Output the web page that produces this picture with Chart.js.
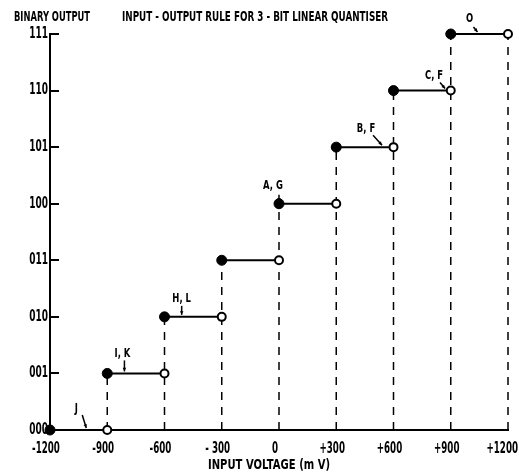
<!DOCTYPE html>
<html lang="en">
<head>
<meta charset="UTF-8">
<title>3-bit linear quantiser</title>
<script src="https://cdn.jsdelivr.net/npm/chart.js@4.4.1/dist/chart.umd.min.js"></script>
<style>
  body { margin: 0; background: #fff; }
  canvas { display: block; }
</style>
</head>
<body>
<canvas id="quantChart" width="519" height="476"></canvas>
<script>
// output code of each quantisation level
var codes = ['000', '001', '010', '011', '100', '101', '110', '111'];
// input span of each level (mV)
var stepFrom = [-1200, -900, -600, -300, 0, 300, 600, 900];
var stepTo = [-900, -600, -300, 0, 300, 600, 900, 1200];
// x axis ticks
var xTicks = [-1200, -900, -600, -300, 0, 300, 600, 900, 1200];
var xTickLabels = ['-1200', '-900', '-600', '- 300', '0', '+300', '+600', '+900', '+1200'];
// dashed drop lines: input value and the level they reach
var dropX = [-900, -600, -300, 0, 300, 600, 900, 1200];
var dropTop = [1, 2, 3, 4, 5, 6, 7, 7];
// callouts and the point on the staircase they point at
var noteText = ['J', 'I, K', 'H, L', 'A, G', 'B, F', 'C, F', 'O'];
var noteX = [-1010, -810, -510, 0, 540, 870, 1040];
var noteY = [0, 1, 2, 4, 5, 6, 7];

var FONT = "'DejaVu Sans', sans-serif";

// label centre / leader start, relative to the anchor point (px)
var noteLabelOff = [[-10, -21], [-2, -20], [0, -18], [-6, -18], [-16, -19], [-11, -15], [-8, -15]];
var noteLeadOff = [[-4, -15], [0, -13], [0, -11], [0, -9], [-9, -12], [-5, -8], [-4, -7]];

// squeezed bold lettering, like the stencil type of the drawing
function narrowText(ctx, text, x, y, size, squeeze, align) {
   ctx.save();
   ctx.font = 'bold ' + size + 'px ' + FONT;
   ctx.textBaseline = 'middle';
   ctx.textAlign = 'left';
   var w = ctx.measureText(text).width * squeeze;
   var left = align === 'left' ? x : (align === 'right' ? x - w : x - w / 2);
   // keep it inside the canvas
   left = Math.min(left, ctx.canvas.width - 1 - w);
   ctx.translate(left, y);
   ctx.scale(squeeze, 1);
   ctx.fillText(text, 0, 0);
   ctx.restore();
}

function fitText(ctx, text, x, y, size, width, align) {
   ctx.save();
   ctx.font = 'bold ' + size + 'px ' + FONT;
   var sq = width / ctx.measureText(text).width;
   ctx.restore();
   narrowText(ctx, text, x, y, size, sq, align);
}

var datasets = [];
// staircase treads: filled dot at start, open dot at end
codes.forEach(function (c, i) {
   datasets.push({
      data: [{x: stepFrom[i], y: i}, {x: stepTo[i], y: i}],
      showLine: true,
      borderColor: '#000',
      borderWidth: 2,
      pointRadius: [5, 4],
      pointBackgroundColor: ['#000', '#fff'],
      pointBorderColor: '#000',
      pointBorderWidth: [1, 2],
      clip: false
   });
});
// dashed risers
dropX.forEach(function (x, i) {
   datasets.push({
      data: [{x: x, y: 0}, {x: x, y: dropTop[i]}],
      showLine: true,
      borderColor: '#000',
      borderWidth: 1.5,
      borderDash: [8, 7],
      pointRadius: 0,
      clip: false
   });
});

var extras = {
   id: 'extras',
   afterDatasetsDraw: function (chart) {
      var ctx = chart.ctx;
      var xs = chart.scales.x, ys = chart.scales.y;
      var area = chart.chartArea;
      ctx.save();
      ctx.strokeStyle = '#000';
      ctx.fillStyle = '#000';
      // inward tick marks on the output axis
      ctx.lineWidth = 2;
      for (var k = 1; k < codes.length; k++) {
         var py = Math.round(ys.getPixelForValue(k));
         ctx.beginPath();
         ctx.moveTo(area.left, py);
         ctx.lineTo(area.left + 9, py);
         ctx.stroke();
      }
      // tick labels
      codes.forEach(function (c, i) {
         narrowText(ctx, c, area.left - 2, ys.getPixelForValue(i), 15, 0.6, 'right');
      });
      xTicks.forEach(function (v, i) {
         narrowText(ctx, xTickLabels[i], xs.getPixelForValue(v) - 4, area.bottom + 19, 15, 0.58, 'center');
      });
      // headings
      fitText(ctx, 'BINARY OUTPUT', 14, 17, 14, 76, 'left');
      fitText(ctx, 'INPUT - OUTPUT RULE FOR 3 - BIT LINEAR QUANTISER', 122, 17, 14, 266, 'left');
      fitText(ctx, 'INPUT VOLTAGE (m V)', 269, 465, 14, 122, 'center');
      // callouts
      ctx.lineWidth = 1.5;
      noteText.forEach(function (t, i) {
         var ax = xs.getPixelForValue(noteX[i]);
         var ay = ys.getPixelForValue(noteY[i]);
         narrowText(ctx, t, ax + noteLabelOff[i][0], ay + noteLabelOff[i][1], 13, 0.65, 'center');
         var sx = ax + noteLeadOff[i][0], sy = ay + noteLeadOff[i][1];
         var ex = ax, ey = ay - 2;
         ctx.beginPath();
         ctx.moveTo(sx, sy);
         ctx.lineTo(ex, ey);
         ctx.stroke();
         // small arrow head
         var a = Math.atan2(ey - sy, ex - sx);
         ctx.beginPath();
         ctx.moveTo(ex, ey);
         ctx.lineTo(ex - 4 * Math.cos(a - 0.45), ey - 4 * Math.sin(a - 0.45));
         ctx.lineTo(ex - 4 * Math.cos(a + 0.45), ey - 4 * Math.sin(a + 0.45));
         ctx.closePath();
         ctx.fill();
      });
      ctx.restore();
   }
};

new Chart(document.getElementById('quantChart'), {
   type: 'scatter',
   data: {datasets: datasets},
   plugins: [extras],
   options: {
      responsive: false,
      animation: false,
      layout: {padding: {top: 34, right: 11, left: 0, bottom: 0}},
      plugins: {
         legend: {display: false},
         tooltip: {enabled: false}
      },
      scales: {
         x: {
            type: 'linear',
            min: -1200,
            max: 1200,
            afterBuildTicks: function (s) {
               s.ticks = xTicks.map(function (v) { return {value: v}; });
            },
            afterFit: function (s) {
               s.height = 46;
               s.paddingLeft = 0;
               s.paddingRight = 0;
            },
            ticks: {display: false},
            grid: {display: false},
            border: {display: true, color: '#000', width: 2}
         },
         y: {
            type: 'linear',
            min: 0,
            max: 7,
            afterBuildTicks: function (s) {
               s.ticks = codes.map(function (c, i) { return {value: i}; });
            },
            afterFit: function (s) {
               s.width = 50;
               s.paddingTop = 0;
               s.paddingBottom = 0;
            },
            ticks: {display: false},
            grid: {display: false},
            border: {display: true, color: '#000', width: 2}
         }
      }
   }
});
</script>
</body>
</html>
